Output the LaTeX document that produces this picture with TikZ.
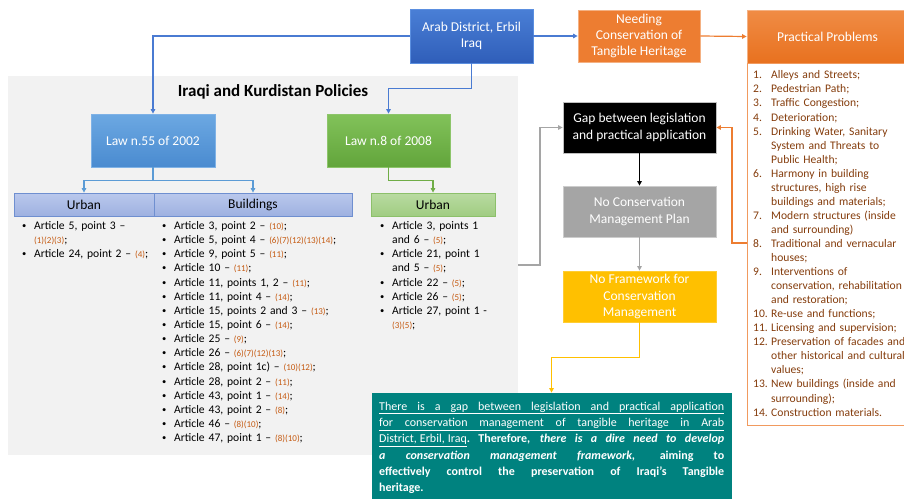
\documentclass[tikz,border=0pt]{standalone}
\usepackage{fontspec}
\setmainfont{Carlito}
\usetikzlibrary{arrows.meta}
\definecolor{bgg}{HTML}{F2F2F2}
\definecolor{ab1}{HTML}{4A7FD6}
\definecolor{ab2}{HTML}{2F5EB9}
\definecolor{abb}{HTML}{5B8FE0}
\definecolor{nc}{HTML}{ED7D31}
\definecolor{ncb}{HTML}{F4B183}
\definecolor{pp1}{HTML}{F08C45}
\definecolor{pp2}{HTML}{E8711F}
\definecolor{lb1}{HTML}{6CA8E2}
\definecolor{lb2}{HTML}{4A8BD0}
\definecolor{lbb}{HTML}{7FB2E6}
\definecolor{lg1}{HTML}{82C25A}
\definecolor{lg2}{HTML}{62A53B}
\definecolor{lgb}{HTML}{8DC56A}
\definecolor{hb1}{HTML}{BAC8EC}
\definecolor{hb2}{HTML}{9EB1E1}
\definecolor{hbb}{HTML}{6F8FD0}
\definecolor{hg1}{HTML}{B9DBA1}
\definecolor{hg2}{HTML}{A0CC82}
\definecolor{hgb}{HTML}{8CC06A}
\definecolor{bl}{HTML}{4A7BD2}
\definecolor{lbl}{HTML}{5B9BD5}
\definecolor{grl}{HTML}{70AD47}
\definecolor{gyl}{HTML}{A5A5A5}
\definecolor{orl}{HTML}{ED7D31}
\definecolor{yl}{HTML}{FFC000}
\definecolor{tealc}{HTML}{00827F}
\definecolor{refc}{HTML}{C55A11}
\definecolor{ppt}{HTML}{843C0C}
\definecolor{plb}{HTML}{F19A5E}
\newcommand\boxfont{\fontsize{13.5}{16.4}\selectfont}
\newcommand\lfont{\fontsize{11.6}{14.15}\selectfont}
\newcommand\pfont{\fontsize{11.6}{14.05}\selectfont}
\newcommand\rf[1]{{\fontsize{9}{10}\selectfont\color{refc}#1}}
\newcommand\smallbul{\raisebox{1pt}{\fontsize{8.5}{8.5}\selectfont\textbullet}}
\newcommand\bitem[1]{\par\noindent\hangindent=12pt\hangafter=1\makebox[12pt][l]{\strut\smallbul}#1\par}
\newcommand\nitem[2]{\par\noindent\hangindent=18pt\hangafter=1\makebox[18pt][l]{\strut #1}#2\par}
\newcommand\jline[1]{\hbox to 345pt{\spaceskip=3pt plus 1fil\xspaceskip=3pt plus 1fil\relax #1}}
\begin{document}
\begin{tikzpicture}[x=1pt,y=-1pt,
  box/.style={draw, line width=0.8pt, inner sep=2pt, align=center, text=white, font=\boxfont},
  hbox/.style={draw, line width=0.8pt, inner sep=1pt, align=center, text=black, font=\boxfont},
  conn/.style={line width=1.2pt},
  arr/.style={-{Triangle[length=4.5pt,width=4.5pt]}},
  listn/.style={anchor=north west, inner sep=0pt, align=left, font=\lfont}]
\useasboundingbox (0,0) rectangle (904,498);
\clip (0,0) rectangle (904,498);
\fill[bgg] (8,76) rectangle (518,455);
\node[anchor=base, font=\bfseries\fontsize{17}{20}\selectfont] (title) at (273,96) {Iraqi and Kurdistan Policies};
% boxes
\node[box, top color=ab1, bottom color=ab2, draw=abb, minimum width=123, minimum height=54] (arab) at (471.5,36) {Arab District, Erbil\\Iraq};
\node[box, fill=nc, draw=ncb, minimum width=122, minimum height=52] (need) at (639,36) {Needing\\Conservation of\\Tangible Heritage};
\node[box, top color=pp1, bottom color=pp2, draw=ncb, minimum width=161, minimum height=53] (prac) at (827.5,36.5) {Practical Problems};
\node[draw=plb, line width=1pt, minimum width=161, minimum height=362, anchor=north west, inner sep=0pt] (plbox) at (747,63) {};
\node[box, top color=lb1, bottom color=lb2, draw=lbb, minimum width=124, minimum height=53] (law55) at (153,140.5) {Law n.55 of 2002};
\node[box, top color=lg1, bottom color=lg2, draw=lgb, minimum width=123, minimum height=53] (law8) at (388.5,140.5) {Law n.8 of 2008};
\node[hbox, top color=hb1, bottom color=hb2, draw=hbb, minimum width=140, minimum height=23] (urban) at (84,204.5) {Urban};
\node[hbox, top color=hb1, bottom color=hb2, draw=hbb, minimum width=198, minimum height=23] (bldg) at (253,204.5) {Buildings};
\node[hbox, top color=hg1, bottom color=hg2, draw=hgb, minimum width=124, minimum height=23] (gurban) at (433,204.5) {Urban};
\node[box, fill=black, draw=gray!50, minimum width=153, minimum height=51] (gap) at (639.5,127.5) {Gap between legislation\\and practical application};
\node[box, fill=gyl, draw=gray!40, minimum width=153, minimum height=51] (noplan) at (639.5,211.5) {No Conservation\\Management Plan};
\node[box, fill=yl, draw=yl!80, minimum width=153, minimum height=51] (frame) at (639.5,296.5) {No Framework for\\Conservation\\Management};
\node[box, fill=tealc, draw=tealc, minimum width=359, minimum height=106] (teal) at (551.5,446) {};
% connectors
\draw[conn, bl, arr] (arab.west) -| (law55.north);
\draw[conn, bl, arr] (arab.south) -- ++(0,25) -| (law8.north);
\draw[conn, bl, arr] (arab.east) -- (need.west);
\draw[conn, orl, arr] (need.east) -- (prac.west);
\draw[conn, lbl] (law55.south) -- ++(0,13) coordinate (j1);
\draw[conn, lbl, arr] (j1) -| (urban.north);
\draw[conn, lbl, arr] (j1) -| (bldg.north);
\draw[conn, grl, arr] (law8.south) -- ++(0,13) -| (gurban.north);
\coordinate (gs) at (518,265);
\draw[conn, gyl, arr] (gs) -- ++(22,0) |- (gap.west);
\coordinate (os) at (747,243);
\draw[conn, orl, arr] (os) -- ++(-15,0) |- (gap.east);
\draw[conn, black, arr] (gap.south) -- (noplan.north);
\draw[conn, gyl, arr] (noplan.south) -- (frame.north);
\draw[conn, yl, arr] (frame.south) -- ++(0,35) -| (teal.north);
% lists
\node[listn, text width=140] (ulist) at (22,215.1) {%
\bitem{Article 5, point 3 –\newline\rf{(1)(2)(3)};}%
\bitem{Article 24, point 2 – \rf{(4)};}};
\node[listn, text width=190] (blist) at (162,215.1) {%
\bitem{Article 3, point 2 – \rf{(10)};}%
\bitem{Article 5, point 4 – \rf{(6)(7)(12)(13)(14)};}%
\bitem{Article 9, point 5 – \rf{(11)};}%
\bitem{Article 10 – \rf{(11)};}%
\bitem{Article 11, points 1, 2 – \rf{(11)};}%
\bitem{Article 11, point 4 – \rf{(14)};}%
\bitem{Article 15, points 2 and 3 – \rf{(13)};}%
\bitem{Article 15, point 6 – \rf{(14)};}%
\bitem{Article 25 – \rf{(9)};}%
\bitem{Article 26 – \rf{(6)(7)(12)(13)};}%
\bitem{Article 28, point 1c) – \rf{(10)(12)};}%
\bitem{Article 28, point 2 – \rf{(11)};}%
\bitem{Article 43, point 1 – \rf{(14)};}%
\bitem{Article 43, point 2 – \rf{(8)};}%
\bitem{Article 46 – \rf{(8)(10)};}%
\bitem{Article 47, point 1 – \rf{(8)(10)};}};
\node[listn, text width=120] (glist) at (380,215.1) {%
\bitem{Article 3, points 1\newline and 6 – \rf{(5)};}%
\bitem{Article 21, point 1\newline and 5 – \rf{(5)};}%
\bitem{Article 22 – \rf{(5)};}%
\bitem{Article 26 – \rf{(5)};}%
\bitem{Article 27, point 1 -\newline\rf{(3)(5)};}};
\node[listn, text width=152, text=ppt, font=\pfont] (plist) at (753,64.6) {%
\nitem{1.}{Alleys and Streets;}%
\nitem{2.}{Pedestrian Path;}%
\nitem{3.}{Traffic Congestion;}%
\nitem{4.}{Deterioration;}%
\nitem{5.}{Drinking Water, Sanitary\newline System and Threats to\newline Public Health;}%
\nitem{6.}{Harmony in building\newline structures, high rise\newline buildings and materials;}%
\nitem{7.}{Modern structures (inside\newline and surrounding)}%
\nitem{8.}{Traditional and vernacular\newline houses;}%
\nitem{9.}{Interventions of\newline conservation, rehabilitation\newline and restoration;}%
\nitem{10.}{Re-use and functions;}%
\nitem{11.}{Licensing and supervision;}%
\nitem{12.}{Preservation of facades and\newline other historical and cultural\newline values;}%
\nitem{13.}{New buildings (inside and\newline surrounding);}%
\nitem{14.}{Construction materials.}};
\node[anchor=north west, inner sep=0pt, text width=345, align=left, text=white, font=\fontsize{12}{16.3}\selectfont] (ttext) at (379,398.6) {%
\strut\underline{\jline{There is a gap between legislation and practical application}}\\
\strut\underline{\jline{for conservation management of tangible heritage in Arab}}\\
\strut\jline{\underline{District, Erbil, Iraq}\textbf{. Therefore, \textit{there is a dire need to develop}}}\\
\strut\jline{\textbf{\textit{a conservation management framework,}} \textbf{aiming to}}\\
\strut\jline{\textbf{effectively control the preservation of Iraqi’s Tangible}}\\
\strut\textbf{heritage.}};
\end{tikzpicture}
\end{document}
